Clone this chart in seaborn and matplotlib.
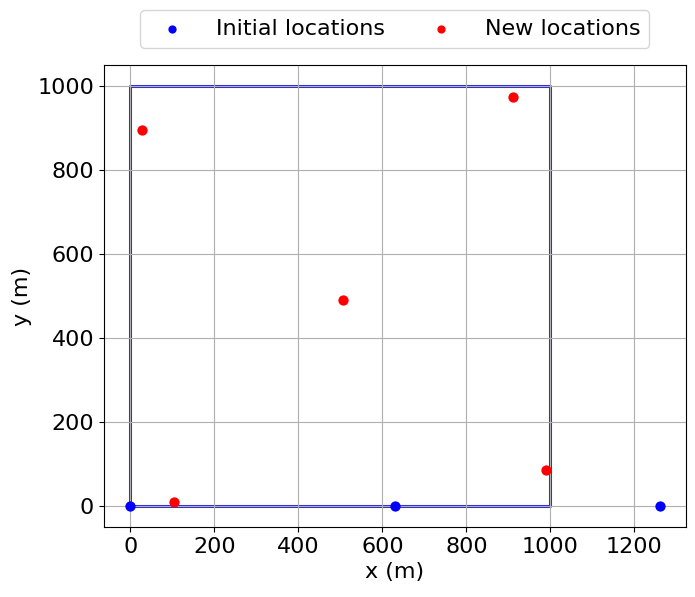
import matplotlib
matplotlib.use('Agg')
import matplotlib.pyplot as plt
import seaborn as sns
import pandas as pd

# Data
init_x = [0, 630, 1260]
init_y = [0, 0, 0]
new_x = [27, 912, 507, 989, 103]
new_y = [895, 974, 490, 86, 10]
area_w = 1000
area_h = 1000

plt.rcParams['font.size'] = 16

fig = plt.figure(figsize=(6.95, 5.97), dpi=100)
ax = fig.add_axes([0.1495, 0.117, 0.8375, 0.774])

# Area boundary (drawn under the grid)
ax.plot([0, area_w, area_w, 0, 0], [0, 0, area_h, area_h, 0],
        color='#2b2bd6', linewidth=2.2, zorder=1)

df_init = pd.DataFrame({'x': init_x, 'y': init_y})
df_new = pd.DataFrame({'x': new_x, 'y': new_y})

sns.scatterplot(data=df_init, x='x', y='y', color='blue', s=55, linewidth=0,
                label='Initial locations', ax=ax, zorder=3)
sns.scatterplot(data=df_new, x='x', y='y', color='red', s=55, linewidth=0,
                label='New locations', ax=ax, zorder=3)

ax.set_xticks(range(0, 1201, 200))
ax.set_yticks(range(0, 1001, 200))
ax.grid(True, color='#b0b0b0', linewidth=0.8, zorder=1.5)
ax.set_xlabel('x (m)', fontsize=16)
ax.set_ylabel('y (m)', fontsize=16)
ax.tick_params(labelsize=16)

ax.legend(loc='upper center', bbox_to_anchor=(0.5, 1.143), ncol=2, fontsize=16,
          markerscale=0.8, columnspacing=1.5, handletextpad=1.0)

plt.savefig('out.png', dpi=100)
